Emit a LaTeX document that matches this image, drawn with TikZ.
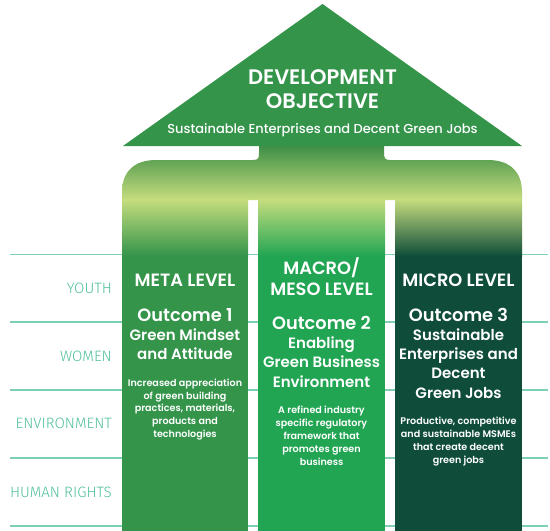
\documentclass[tikz,border=0pt]{standalone}
\usepackage{fontspec}
\setmainfont{Poppins}[UprightFont=* Medium, BoldFont=* SemiBold]
\newfontfamily\lightfont{Fira Sans Light}
\definecolor{roofgreen}{HTML}{33944A}
\definecolor{colone}{HTML}{33944A}
\definecolor{coltwo}{HTML}{22A553}
\definecolor{colthree}{HTML}{0F4D3A}
\definecolor{lightlime}{HTML}{C6DD7E}
\definecolor{capdark}{HTML}{3E8F47}
\definecolor{lineteal}{HTML}{7DD0B2}
\definecolor{labelteal}{HTML}{4FBF99}
\tikzset{
  hline/.style={draw=lineteal, line width=1.3pt},
  sidelabel/.style={anchor=east, inner sep=0pt, text=labelteal, font=\lightfont\fontsize{15}{16}\selectfont},
  coltitle/.style={inner sep=0pt, text=white, align=center, font=\bfseries\fontsize{17.8}{21}\selectfont},
  outcome/.style={inner sep=0pt, text=white, align=center, font=\bfseries\fontsize{17.8}{20}\selectfont},
  outsub/.style={inner sep=0pt, text=white, align=center, font=\bfseries\fontsize{15}{19.2}\selectfont},
  desc/.style={inner sep=0pt, text=white, align=center, font=\bfseries\fontsize{9.6}{12.9}\selectfont},
}
\begin{document}
\begin{tikzpicture}[x=1pt,y=-1pt]
\useasboundingbox (0,0) rectangle (550,531);
% horizontal lines
\foreach \yy in {254.5,322,390,458,526} {\draw[hline] (10,\yy) -- (548,\yy);}
% roof
\fill[roofgreen] (123,146) -- (322.5,4) -- (522,146) -- cycle;
% cap (neck + wide rounded part)
\shade[top color=capdark, bottom color=lightlime]
  (122,200) -- (122,192) .. controls (122,172) and (134,160) .. (156,160)
  -- (253,160) .. controls (258.5,160) and (259,158) .. (259,153) -- (259,146)
  -- (384,146) -- (384,153) .. controls (384,158) and (385,160) .. (390,160)
  -- (488,160) .. controls (510,160) and (522,172) .. (522,192) -- (522,200) -- cycle;
% columns
\shade[top color=lightlime, bottom color=colone] (122,199) rectangle (248,256);
\fill[colone] (122,255.5) rectangle (248,531);
\shade[top color=lightlime, bottom color=coltwo] (258,199) rectangle (385,256);
\fill[coltwo] (258,255.5) rectangle (385,531);
\shade[top color=lightlime, bottom color=colthree] (395,199) rectangle (522,256);
\fill[colthree] (395,255.5) rectangle (522,531);
% roof text
\node[inner sep=0pt, text=white, align=center, font=\bfseries\fontsize{21}{24.5}\selectfont] (dev) at (322.5,89) {DEVELOPMENT\\OBJECTIVE};
\node[inner sep=0pt, text=white, font=\fontsize{13}{15}\selectfont] (devsub) at (322.5,130) {Sustainable Enterprises and Decent Green Jobs};
% side labels
\node[sidelabel] (youth) at (112,288) {YOUTH};
\node[sidelabel] (women) at (112,356) {WOMEN};
\node[sidelabel] (env) at (112,423) {ENVIRONMENT};
\node[sidelabel] (hr) at (112,492) {HUMAN RIGHTS};
% column 1
\node[coltitle] (t1) at (185,280) {META LEVEL};
\node[outcome] (o1) at (185,315) {Outcome 1};
\node[outsub] (s1) at (185,344.5) {Green Mindset\\and Attitude};
\node[desc] (d1) at (185,409.5) {Increased appreciation\\of green building\\practices, materials,\\products and\\technologies};
% column 2
\node[coltitle] (t2) at (321.5,276.5) {MACRO/\\MESO LEVEL};
\node[outcome] (o2) at (321.5,323) {Outcome 2};
\node[outsub] (s2) at (321.5,362) {Enabling\\Green Business\\Environment};
\node[desc] (d2) at (321.5,436) {A refined industry\\specific regulatory\\framework that\\promotes green\\business};
% column 3
\node[coltitle] (t3) at (458.5,280) {MICRO LEVEL};
\node[outcome] (o3) at (458.5,315) {Outcome 3};
\node[outsub] (s3) at (458.5,363.5) {Sustainable\\Enterprises and\\Decent\\Green Jobs};
\node[desc] (d3) at (458.5,441.5) {Productive, competitive\\and sustainable MSMEs\\that create decent\\green jobs};
\end{tikzpicture}
\end{document}
